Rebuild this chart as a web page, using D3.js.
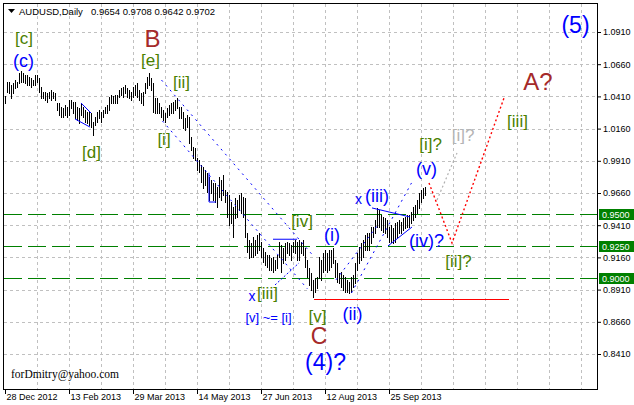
<!DOCTYPE html>
<html><head><meta charset="utf-8">
<script src="https://cdn.jsdelivr.net/npm/d3@7"></script>
<style>body{margin:0;background:#fff}svg{display:block}</style>
</head><body><svg id="c" width="634" height="405"></svg>
<script>
// ---- data (AUDUSD daily, 211 bars) ----
const highs = [
1.0413,1.0522,1.0522,1.0499,1.0514,1.0537,1.0522,1.0592,1.0607,1.0592,1.0576,1.0576,1.0561,1.0553,1.0537,1.0576,1.0576,1.0553,1.0483,1.0444,
1.0444,1.0436,1.0444,1.0460,1.0444,1.0436,1.0359,1.0359,1.0328,1.0320,1.0343,1.0328,1.0382,1.0382,1.0367,1.0367,1.0328,1.0320,1.0359,1.0328,
1.0304,1.0289,1.0289,1.0281,1.0211,1.0250,1.0289,1.0304,1.0289,1.0304,1.0328,1.0343,1.0405,
1.0421,1.0413,1.0421,1.0421,1.0460,1.0475,1.0483,1.0499,1.0475,1.0460,1.0444,1.0483,1.0499,1.0514,1.0460,1.0436,1.0444,1.0514,1.0561,1.0590,
1.0553,1.0514,1.0397,1.0397,1.0359,1.0328,1.0304,1.0281,1.0320,1.0343,1.0359,1.0367,1.0382,1.0397,1.0328,1.0328,1.0289,1.0242,1.0266,1.0250,
1.0095,1.0017,1.0010,0.9932,0.9916,0.9878,0.9862,0.9839,0.9816,0.9785,0.9761,0.9738,
0.9738,0.9707,0.9785,0.9761,0.9800,0.9684,0.9668,0.9645,0.9591,0.9552,0.9622,0.9606,0.9645,0.9661,0.9630,0.9622,0.9350,0.9296,0.9273,0.9319,
0.9296,0.9335,0.9350,0.9280,0.9234,0.9203,0.9179,0.9179,0.9156,0.9164,0.9141,0.9179,0.9280,0.9257,0.9234,0.9273,0.9280,0.9273,0.9257,0.9280,
0.9296,0.9280,0.9296,0.9280,0.9296,0.9234,0.9141,0.9079,0.9040,0.8986,0.9001,0.9009,
0.9164,0.9141,0.9195,0.9218,0.9195,0.9218,0.9218,0.9234,0.9141,0.9117,0.9040,0.9047,0.9024,0.9009,0.8986,0.8970,0.9009,0.9024,0.9117,0.9195,
0.9242,0.9273,0.9296,0.9335,0.9350,0.9350,0.9397,0.9397,0.9451,0.9544,0.9529,0.9490,0.9474,0.9467,0.9451,0.9397,0.9412,0.9389,0.9428,0.9436,
0.9451,0.9436,0.9467,0.9474,0.9490,0.9490,0.9513,0.9552,0.9568,0.9606,0.9661,0.9684,0.9699,0.9708];
const lows = [
1.0359,1.0444,1.0436,1.0397,1.0436,1.0475,1.0483,1.0514,1.0522,1.0522,1.0514,1.0499,1.0499,1.0483,1.0499,1.0499,1.0522,1.0444,1.0397,1.0397,
1.0382,1.0367,1.0397,1.0382,1.0397,1.0382,1.0304,1.0266,1.0250,1.0250,1.0266,1.0250,1.0266,1.0320,1.0281,1.0242,1.0227,1.0203,1.0266,1.0250,
1.0211,1.0203,1.0188,1.0172,1.0110,1.0188,1.0211,1.0242,1.0211,1.0250,1.0281,1.0281,1.0304,
1.0359,1.0359,1.0359,1.0359,1.0405,1.0421,1.0405,1.0436,1.0405,1.0397,1.0382,1.0405,1.0421,1.0405,1.0382,1.0359,1.0343,1.0436,1.0475,1.0499,
1.0460,1.0289,1.0281,1.0281,1.0281,1.0250,1.0227,1.0211,1.0250,1.0266,1.0281,1.0281,1.0304,1.0320,1.0242,1.0242,1.0165,1.0149,1.0172,1.0048,
0.9994,0.9932,0.9916,0.9839,0.9823,0.9746,0.9699,0.9723,0.9668,0.9606,0.9661,0.9606,
0.9591,0.9552,0.9630,0.9606,0.9645,0.9591,0.9474,0.9412,0.9428,0.9319,0.9467,0.9474,0.9529,0.9505,0.9474,0.9319,0.9203,0.9156,0.9164,0.9164,
0.9179,0.9195,0.9218,0.9164,0.9125,0.9102,0.9086,0.9063,0.9063,0.9047,0.9063,0.9079,0.9164,0.9047,0.9117,0.9141,0.9195,0.9179,0.9141,0.9203,
0.9195,0.9141,0.9141,0.9195,0.9179,0.9086,0.9009,0.8947,0.8908,0.8854,0.8893,0.8924,
0.9001,0.8986,0.9047,0.9063,0.9047,0.9063,0.9086,0.9117,0.9009,0.8970,0.8962,0.8931,0.8908,0.8893,0.8893,0.8885,0.8893,0.8931,0.8962,0.9063,
0.9117,0.9141,0.9164,0.9218,0.9218,0.9218,0.9273,0.9319,0.9350,0.9397,0.9397,0.9374,0.9358,0.9350,0.9319,0.9280,0.9280,0.9273,0.9280,0.9319,
0.9350,0.9350,0.9374,0.9389,0.9397,0.9397,0.9428,0.9451,0.9474,0.9505,0.9544,0.9591,0.9622,0.9642];
const dateLabels = ["28 Dec 2012","13 Feb 2013","29 Mar 2013","14 May 2013","27 Jun 2013","12 Aug 2013","25 Sep 2013"];
const dateTickIdx = [0,32,64,96,128,160,192];
const priceTicks = [1.0910,1.0660,1.0410,1.0160,0.9910,0.9660,0.9410,0.9160,0.8910,0.8660,0.8410];
const levels = [0.9500,0.9250,0.9000];
const symbolTitle = "AUDUSD,Daily";
const lastOHLC = [0.9654,0.9708,0.9642,0.9702];
const lowLine = 0.8835;

// ---- layout ----
const svg = d3.select("#c");
const L = 3.5, T = 3.5, R = 597.5, B = 389.5;
const x = d3.scaleLinear().domain([0, 210]).range([5, 425]);
const y = d3.scaleLinear().domain([0.8410, 1.0910]).range([354, 32]);
const px = i => Math.round(x(i)) + 0.5;
const py = p => Math.round(y(p)) + 0.5;

svg.append("rect").attr("width",634).attr("height",405).attr("fill","#fff");
svg.append("defs").append("clipPath").attr("id","clip")
  .append("rect").attr("x",L).attr("y",T).attr("width",R-L).attr("height",B-T);
const plot = svg.append("g").attr("clip-path","url(#clip)");

// grid
const gridIdx = d3.range(16, 400, 16).filter(i => x(i) < R - 4);
plot.selectAll("line.vg").data(gridIdx).join("line")
  .attr("x1",px).attr("x2",px).attr("y1",T).attr("y2",B)
  .attr("stroke","#c0c0c0").attr("stroke-dasharray","3,3").attr("shape-rendering","crispEdges");
plot.selectAll("line.hg").data(priceTicks).join("line")
  .attr("x1",L).attr("x2",R).attr("y1",py).attr("y2",py)
  .attr("stroke","#c0c0c0").attr("stroke-dasharray","3,3").attr("shape-rendering","crispEdges");

// level lines
plot.selectAll("line.lv").data(levels).join("line")
  .attr("x1",L).attr("x2",R).attr("y1",py).attr("y2",py)
  .attr("stroke","#008000").attr("stroke-dasharray","18,6").attr("shape-rendering","crispEdges");

// red low line
plot.append("line").attr("x1",px(154)).attr("x2",px(251.5)).attr("y1",py(lowLine)).attr("y2",py(lowLine))
  .attr("stroke","#ff0000").attr("shape-rendering","crispEdges");

// bars
plot.selectAll("line.bar").data(highs).join("line")
  .attr("x1",(d,i)=>px(i)).attr("x2",(d,i)=>px(i))
  .attr("y1",d=>Math.round(y(d))).attr("y2",(d,i)=>Math.round(y(lows[i]))+1)
  .attr("stroke","#000").attr("shape-rendering","crispEdges");

// annotation lines (bar index, price)
const line = d3.line().x(d=>x(d[0])).y(d=>y(d[1]));
const annLines = [
  {pts:[[78.25,1.0537],[153.75,0.9179]], c:"#0000ff", dash:"2,4.5"},
  {pts:[[78.75,1.0219],[151.25,0.8915]], c:"#0000ff", dash:"2,4.5"},
  {pts:[[173.25,0.8884],[203.25,0.9738]], c:"#0000ff", dash:"2,4.5"},
  {pts:[[165.5,0.8986],[186.5,0.9413]], c:"#0000ff", dash:"2,4.5"},
  {pts:[[38,1.0359],[43,1.0281]], c:"#0000ff", dash:null},
  {pts:[[35,1.0235],[42.5,1.0172]], c:"#0000ff", dash:null},
  {pts:[[102,0.9817],[102,0.9590],[105.5,0.9590]], c:"#0000ff", dash:null},
  {pts:[[134,0.9301],[146,0.9301]], c:"#0000ff", dash:null},
  {pts:[[135,0.8946],[147,0.9117]], c:"#0000ff", dash:"2,2"},
  {pts:[[183.5,0.9544],[202.5,0.9474]], c:"#0000ff", dash:null},
  {pts:[[191.5,0.9249],[203.5,0.9396]], c:"#0000ff", dash:null},
  {pts:[[212,0.9738],[223.5,0.9272],[249.5,1.0398]], c:"#ff0000", dash:"2,2.5", w:1.4},
  {pts:[[216,0.9606],[226,0.9971]], c:"#b0b0b0", dash:"2,2.5", w:1.2}
];
plot.selectAll("path.ann").data(annLines).join("path")
  .attr("d",d=>line(d.pts)).attr("fill","none")
  .attr("stroke",d=>d.c).attr("stroke-width",d=>d.w||1)
  .attr("stroke-dasharray",d=>d.dash);

// wave labels (bar index, price)
const GREEN = "#4a7f00", BLUE = "#0000ff", BROWN = "#a52a2a", GREY = "#b4b4b4";
const labels = [
  ["[c]",9.5,1.0856,GREEN,17], ["[e]",72.75,1.0685,GREEN,17], ["[ii]",88.25,1.0518,GREEN,17],
  ["[d]",43.25,0.9974,GREEN,17], ["[i]",79.5,1.0079,GREEN,17], ["[iv]",148.5,0.9435,GREEN,17],
  ["[iii]",131.25,0.8876,GREEN,17], ["[v]",156.25,0.8705,GREEN,17], ["[i]?",212.75,1.0037,GREEN,17],
  ["[ii]?",226.75,0.9132,GREEN,17], ["[iii]",256.25,1.0219,GREEN,17],
  ["(c)",9.25,1.0681,BLUE,18], ["(i)",163.5,0.9334,BLUE,18], ["(ii)",173.75,0.8720,BLUE,18],
  ["(iii)",186,0.9637,BLUE,18], ["(iv)?",210.75,0.9287,BLUE,18], ["(v)",210.75,0.9846,BLUE,18],
  ["x",123.5,0.8857,BLUE,14], ["x",176.75,0.9613,BLUE,14],
  ["[v] ~= [i]",131.75,0.8697,BLUE,13],
  ["(4)?",160.25,0.8346,BLUE,23], ["(5)",285.25,1.0964,BLUE,23],
  ["B",73.75,1.0860,BROWN,24], ["C",157,0.8552,BROWN,23], ["A?",266.5,1.0526,BROWN,24],
  ["[i]?",229,1.0110,GREY,17]
];
svg.append("g").selectAll("text").data(labels).join("text")
  .attr("x",d=>x(d[1])).attr("y",d=>y(d[2]))
  .attr("text-anchor","middle").attr("dominant-baseline","central")
  .attr("font-family","'Liberation Sans', Arial, sans-serif")
  .attr("font-size",d=>d[4]).attr("fill",d=>d[3]).text(d=>d[0]);

// border
svg.append("rect").attr("x",L).attr("y",T).attr("width",R-L).attr("height",B-T)
  .attr("fill","none").attr("stroke","#000").attr("shape-rendering","crispEdges");

// right axis
const ay = svg.append("g").attr("transform",`translate(${R-0.5},0)`)
  .call(d3.axisRight(y).tickValues(priceTicks).tickFormat(d3.format(".4f")).tickSize(4).tickSizeOuter(0));
ay.select(".domain").remove();
ay.selectAll("text").attr("font-family","'Liberation Sans', Arial, sans-serif").attr("font-size",9).attr("x",6).attr("fill","#000");
ay.selectAll("line").attr("stroke","#000");

// level price boxes
const lb = svg.append("g").selectAll("g").data(levels).join("g")
  .attr("transform",d=>`translate(599,${py(d)})`);
lb.append("rect").attr("x",0).attr("y",-5.5).attr("width",35).attr("height",11).attr("fill","#008000");
lb.append("text").attr("x",3).attr("y",0).attr("dy","0.35em").attr("fill","#fff")
  .attr("font-family","'Liberation Sans', Arial, sans-serif").attr("font-size",9)
  .text(d=>d3.format(".4f")(d));

// bottom axis
const ax = svg.append("g").attr("transform",`translate(0,${B-0.5})`)
  .call(d3.axisBottom(x).tickValues(dateTickIdx).tickFormat((d,i)=>dateLabels[i]).tickSize(5).tickSizeOuter(0));
ax.select(".domain").remove();
ax.selectAll("line").attr("stroke","#000");
ax.selectAll("text").attr("text-anchor","start").attr("x",1).attr("y",5).attr("dy","0.71em")
  .attr("font-family","'Liberation Sans', Arial, sans-serif").attr("font-size",9).attr("fill","#000");

// header
svg.append("path").attr("d","M8,9 L15,9 L11.5,13 Z").attr("fill","#000");
svg.append("text").attr("x",19).attr("y",15).attr("font-family","'Liberation Sans', Arial, sans-serif")
  .attr("font-size",9.5).attr("fill","#000").text(symbolTitle);
svg.append("text").attr("x",91).attr("y",15).attr("font-family","'Liberation Sans', Arial, sans-serif")
  .attr("font-size",9.5).attr("fill","#000").text(lastOHLC.map(d3.format(".4f")).join(" "));

// watermark
svg.append("text").attr("x",11).attr("y",378).attr("font-family","'Liberation Serif', 'Times New Roman', serif")
  .attr("font-size",11.5).attr("fill","#000").text("forDmitry@yahoo.com");
</script>
</body></html>
